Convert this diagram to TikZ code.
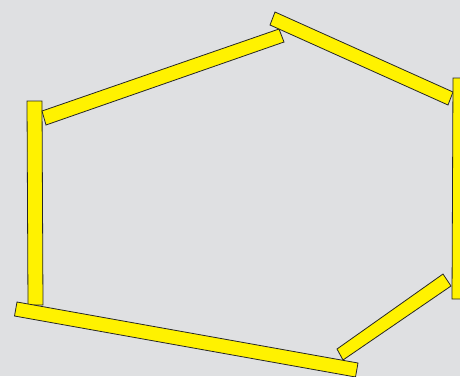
\documentclass[tikz,border=0pt]{standalone}
\definecolor{bg}{HTML}{DFE0E2}
\definecolor{bar}{HTML}{FFF200}
\tikzset{barshape/.style={fill=bar,draw=black!85,line width=0.8pt,line join=miter}}
\begin{document}
\begin{tikzpicture}[x=1pt,y=-1pt]
\useasboundingbox (0,0) rectangle (460,376);
\clip (0,0) rectangle (460,376);
\fill[bg] (0,0) rectangle (460,376);
% left vertical
\draw[barshape] (27,101) -- (42,101) -- (43,305) -- (28,305) -- cycle;
% top-left diagonal
\draw[barshape] (42,111) -- (279,29) -- (284,42) -- (46,125) -- cycle;
% top-right diagonal
\draw[barshape] (275,12) -- (453,92) -- (448,105) -- (270,25) -- cycle;
% right vertical
\draw[barshape] (453,78) -- (468,78) -- (468,299) -- (452,299) -- cycle;
% lower-right diagonal
\draw[barshape] (337,349) -- (443,274) -- (451,286) -- (343,360) -- cycle;
% bottom
\draw[barshape] (17,302) -- (358,363) -- (355.5,377) -- (14.5,316) -- cycle;
\end{tikzpicture}
\end{document}
